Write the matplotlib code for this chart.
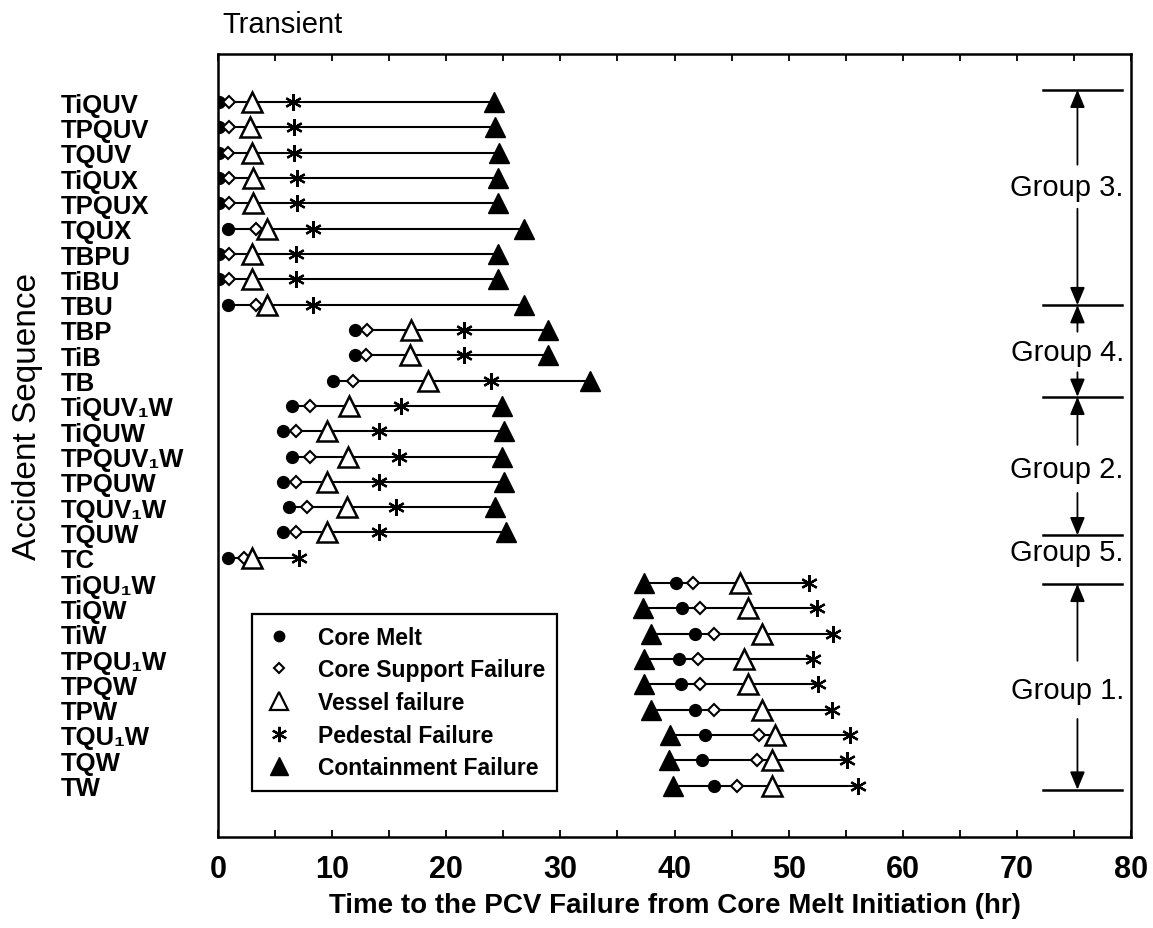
import numpy as np
import matplotlib
matplotlib.use("Agg")
import matplotlib.pyplot as plt
from matplotlib.lines import Line2D

plt.rcParams['font.family'] = ['Liberation Sans', 'DejaVu Sans']

nan = np.nan

# accident sequences, top to bottom
seqs = ['TiQUV', 'TPQUV', 'TQUV', 'TiQUX', 'TPQUX', 'TQUX', 'TBPU', 'TiBU', 'TBU',
        'TBP', 'TiB', 'TB',
        'TiQUV\u2081W', 'TiQUW', 'TPQUV\u2081W', 'TPQUW', 'TQUV\u2081W', 'TQUW',
        'TC',
        'TiQU\u2081W', 'TiQW', 'TiW', 'TPQU\u2081W', 'TPQW', 'TPW',
        'TQU\u2081W', 'TQW', 'TW']

# event times (hr after core melt initiation)
core_melt = [0.1, 0.1, 0.1, 0.1, 0.1, 0.9, 0.1, 0.1, 0.9,
             12.0, 12.0, 10.1,
             6.5, 5.7, 6.5, 5.7, 6.2, 5.7,
             0.9,
             40.1, 40.7, 41.8, 40.4, 40.6, 41.8, 42.7, 42.4, 43.5]
core_support = [1.0, 1.0, 0.9, 1.0, 1.0, 3.3, 1.0, 1.0, 3.3,
                13.1, 13.0, 11.8,
                8.1, 6.8, 8.1, 6.8, 7.8, 6.8,
                2.3,
                41.6, 42.2, 43.5, 42.1, 42.2, 43.5, 47.4, 47.2, 45.5]
vessel = [3.0, 2.8, 3.0, 3.1, 3.1, 4.3, 3.0, 3.0, 4.3,
          16.9, 16.8, 18.4,
          11.5, 9.6, 11.4, 9.6, 11.3, 9.6,
          3.0,
          45.7, 46.4, 47.7, 46.1, 46.4, 47.7, 48.8, 48.5, 48.5]
pedestal = [6.6, 6.7, 6.7, 6.9, 6.9, 8.3, 6.8, 6.8, 8.3,
            21.6, 21.6, 23.9,
            16.0, 14.1, 15.9, 14.1, 15.6, 14.1,
            7.1,
            51.8, 52.5, 53.9, 52.1, 52.6, 53.8, 55.4, 55.1, 56.1]
containment = [24.2, 24.3, 24.6, 24.5, 24.5, 26.8, 24.5, 24.5, 26.8,
               28.9, 28.9, 32.6,
               24.9, 25.1, 24.9, 25.1, 24.3, 25.2,
               nan,
               37.3, 37.2, 37.9, 37.3, 37.3, 37.9, 39.6, 39.5, 39.9]

groups = ['Group 3.', 'Group 4.', 'Group 2.', 'Group 5.', 'Group 1.']

rows = np.arange(len(seqs))
allv = np.array([core_melt, core_support, vessel, pedestal, containment])

fig = plt.figure(figsize=(11.53, 9.29), dpi=100)
ax = fig.add_axes([0.189, 0.098, 0.792, 0.843])

# connecting line for each sequence
ax.hlines(rows, np.nanmin(allv, axis=0), np.nanmax(allv, axis=0),
          color='k', lw=1.5, zorder=2)

ax.plot(containment, rows, ls='none', marker='^', ms=14, color='k', zorder=3)
ax.plot(pedestal, rows, ls='none', marker=(6, 2, 0), ms=12, mew=1.6,
        color='k', zorder=3)
ax.plot(core_melt, rows, ls='none', marker='o', ms=8.5, color='k', zorder=4)
ax.plot(core_support, rows, ls='none', marker='D', ms=6.4, mew=1.5,
        mfc='white', mec='k', zorder=5)
ax.plot(vessel, rows, ls='none', marker='^', ms=14.5, mew=1.8,
        mfc='white', mec='k', zorder=6)

ax.set_xlim(0, 80)
ax.set_ylim(29.03, -1.91)
ax.set_xticks(np.arange(0, 81, 10))
ax.set_xticks(np.arange(5, 80, 10), minor=True)
ax.tick_params(axis='x', which='both', direction='in', length=5, width=1.3,
               top=True, labelsize=22, pad=12)
for lab in ax.get_xticklabels():
    lab.set_fontweight('bold')

ax.set_yticks(rows)
ax.set_yticklabels(seqs, fontsize=18.5, fontweight='bold', ha='left')
ax.tick_params(axis='y', length=0, pad=113)

for s in ax.spines.values():
    s.set_linewidth(1.8)

ax.set_xlabel('Time to the PCV Failure from Core Melt Initiation (hr)',
              fontsize=20, fontweight='bold', labelpad=6)
fig.text(0.0235, 1 - 416 / 929, 'Accident Sequence', rotation=90,
         fontsize=24, ha='center', va='center')
fig.text(222 / 1153, 1 - 25 / 929, 'Transient', fontsize=21,
         ha='left', va='center')

# group brackets on the right
edges = [-0.49, 8.02, 11.64, 17.11, 19.03, 27.16]
for e in edges:
    ax.plot([72.3, 79.2], [e, e], color='k', lw=1.8, zorder=3)

label_y = [3.34, 9.87, 14.49, 17.77, 23.22]
spans = [(-0.49, 8.02), (8.02, 11.64), (11.64, 17.11), None, (19.03, 27.16)]
gaps = [0.87, 0.8, 0.95, 0, 1.15]
ax_x = 75.3
astyle = dict(arrowstyle='-|>,head_length=0.6,head_width=0.25', color='k',
              lw=1.3, mutation_scale=18, shrinkA=0, shrinkB=0)
for name, y, sp, g in zip(groups, label_y, spans, gaps):
    ax.text(74.4, y, name, fontsize=21, ha='center', va='center', zorder=7)
    if sp is None:
        continue
    ax.annotate('', xy=(ax_x, sp[0]), xytext=(ax_x, y - g), arrowprops=astyle)
    ax.annotate('', xy=(ax_x, sp[1]), xytext=(ax_x, y + g), arrowprops=astyle)

handles = [
    Line2D([], [], ls='none', marker='o', ms=7.5, color='k'),
    Line2D([], [], ls='none', marker='D', ms=5.5, mew=1.5, mfc='white', mec='k'),
    Line2D([], [], ls='none', marker='^', ms=13, mew=1.6, mfc='white', mec='k'),
    Line2D([], [], ls='none', marker=(6, 2, 0), ms=11, mew=1.6, color='k'),
    Line2D([], [], ls='none', marker='^', ms=13, color='k'),
]
names = ['Core Melt', 'Core Support Failure', 'Vessel failure',
         'Pedestal Failure', 'Containment Failure']
leg = ax.legend(handles, names, loc='lower left', bbox_to_anchor=(0.037, 0.059),
                borderaxespad=0, fancybox=False, framealpha=1, edgecolor='k',
                prop={'size': 16.5, 'weight': 'bold'}, handlelength=1.4,
                handletextpad=1.0, labelspacing=0.42, borderpad=0.5)
leg.get_frame().set_linewidth(1.6)

fig.savefig('out.png', dpi=100)
